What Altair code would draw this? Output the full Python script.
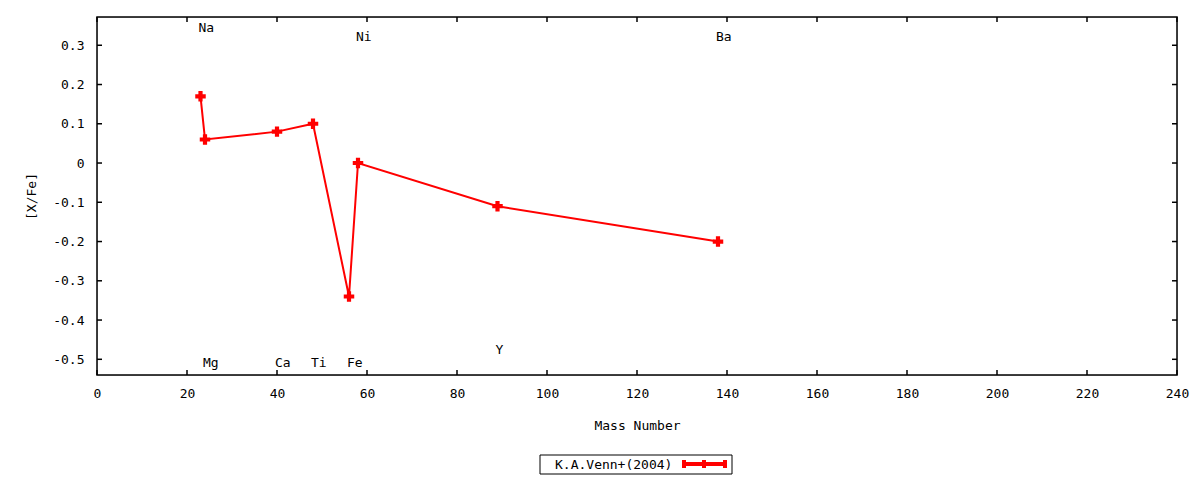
import pandas as pd
import altair as alt

# Venn et al. (2004) abundance pattern
elements = ["Na", "Mg", "Ca", "Ti", "Fe", "Ni", "Y", "Ba"]
mass = [23, 24, 40, 48, 56, 58, 89, 138]
xfe = [0.17, 0.06, 0.08, 0.10, -0.34, 0.00, -0.11, -0.20]
label_y = [0.345, -0.51, -0.51, -0.51, -0.51, 0.32, -0.477, 0.32]

x_ticks = [0, 20, 40, 60, 80, 100, 120, 140, 160, 180, 200, 220, 240]
y_ticks = [-0.5, -0.4, -0.3, -0.2, -0.1, 0.0, 0.1, 0.2, 0.3]

legend_label = "K.A.Venn+(2004)"

FONT = "DejaVu Sans Mono"
RED = "#ff0000"
W, H = 1080, 358

d = pd.DataFrame({"element": elements, "mass": mass, "xfe": xfe, "label_y": label_y})
xt = pd.DataFrame({"v": x_ticks})
yt = pd.DataFrame({"v": y_ticks})
one = pd.DataFrame({"k": [0]})

x_scale = alt.Scale(domain=[0, 240], nice=False, zero=False)
y_scale = alt.Scale(domain=[-0.54, 0.372], nice=False, zero=False)

x_axis = alt.Axis(values=x_ticks, ticks=False, domain=False, grid=False,
                  labelFont=FONT, labelFontSize=13, labelColor="black",
                  labelPadding=12, labelFlush=False,
                  title="Mass Number", titleFont=FONT, titleFontSize=13,
                  titleFontWeight="normal", titleColor="black", titlePadding=19)
y_axis = alt.Axis(values=y_ticks, ticks=False, domain=False, grid=False,
                  labelFont=FONT, labelFontSize=13, labelColor="black",
                  labelPadding=13, labelFlush=False,
                  labelExpr="datum.value == 0 ? '0' : toString(round(datum.value * 10) / 10)",
                  title="[X/Fe]", titleFont=FONT, titleFontSize=13,
                  titleFontWeight="normal", titleColor="black", titlePadding=14)

# Line + points
line = (
    alt.Chart(d)
    .mark_line(color=RED, strokeWidth=2)
    .encode(x=alt.X("mass:Q", scale=x_scale, axis=x_axis),
            y=alt.Y("xfe:Q", scale=y_scale, axis=y_axis),
            order="mass:Q")
)
points = (
    alt.Chart(d)
    .mark_point(shape="cross", filled=True, size=110, color=RED, opacity=1)
    .encode(x=alt.X("mass:Q", scale=x_scale), y=alt.Y("xfe:Q", scale=y_scale))
)

# Element labels
labels = (
    alt.Chart(d)
    .mark_text(align="left", baseline="middle", dx=-2, font=FONT, fontSize=13, color="black")
    .encode(x=alt.X("mass:Q", scale=x_scale), y=alt.Y("label_y:Q", scale=y_scale), text="element:N")
)

# Inward ticks on all four sides
tick_b = alt.Chart(xt).mark_rule(color="black", strokeWidth=1.5).encode(
    x=alt.X("v:Q", scale=x_scale), y=alt.value(H), y2=alt.value(H - 5))
tick_t = alt.Chart(xt).mark_rule(color="black", strokeWidth=1.5).encode(
    x=alt.X("v:Q", scale=x_scale), y=alt.value(0), y2=alt.value(5))
tick_l = alt.Chart(yt).mark_rule(color="black", strokeWidth=1.5).encode(
    y=alt.Y("v:Q", scale=y_scale), x=alt.value(0), x2=alt.value(5))
tick_r = alt.Chart(yt).mark_rule(color="black", strokeWidth=1.5).encode(
    y=alt.Y("v:Q", scale=y_scale), x=alt.value(W), x2=alt.value(W - 5))

# Plot frame
frame = alt.Chart(one).mark_rect(fill=None, stroke="black", strokeWidth=1.5).encode(
    x=alt.value(0), x2=alt.value(W), y=alt.value(0), y2=alt.value(H))

# Key box below the plot
key_box = alt.Chart(one).mark_rect(fill="white", stroke="black", strokeWidth=1).encode(
    x=alt.value(443), x2=alt.value(635), y=alt.value(438), y2=alt.value(457))
key_text = alt.Chart(one).mark_text(align="left", baseline="middle", font=FONT,
                                    fontSize=13, color="black").encode(
    x=alt.value(458), y=alt.value(448), text=alt.value(legend_label))
key_line = alt.Chart(one).mark_rule(color=RED, strokeWidth=4).encode(
    x=alt.value(585), x2=alt.value(629), y=alt.value(447))
key_bar1 = alt.Chart(one).mark_rule(color=RED, strokeWidth=4).encode(
    x=alt.value(587), y=alt.value(443), y2=alt.value(451))
key_bar2 = alt.Chart(one).mark_rule(color=RED, strokeWidth=4).encode(
    x=alt.value(607), y=alt.value(443), y2=alt.value(451))
key_bar3 = alt.Chart(one).mark_rule(color=RED, strokeWidth=4).encode(
    x=alt.value(628), y=alt.value(443), y2=alt.value(451))

chart = (
    alt.layer(tick_b, tick_t, tick_l, tick_r, frame, line, points, labels,
              key_box, key_text, key_line, key_bar1, key_bar2, key_bar3)
    .properties(width=W, height=H, autosize=alt.AutoSizeParams(type="none"),
                padding={"left": 89, "top": 9, "right": 15, "bottom": 105})
    .configure_view(stroke=None)
    .configure(background="white")
)

chart.save("out.html", embed_options={"renderer": "svg", "actions": False})
